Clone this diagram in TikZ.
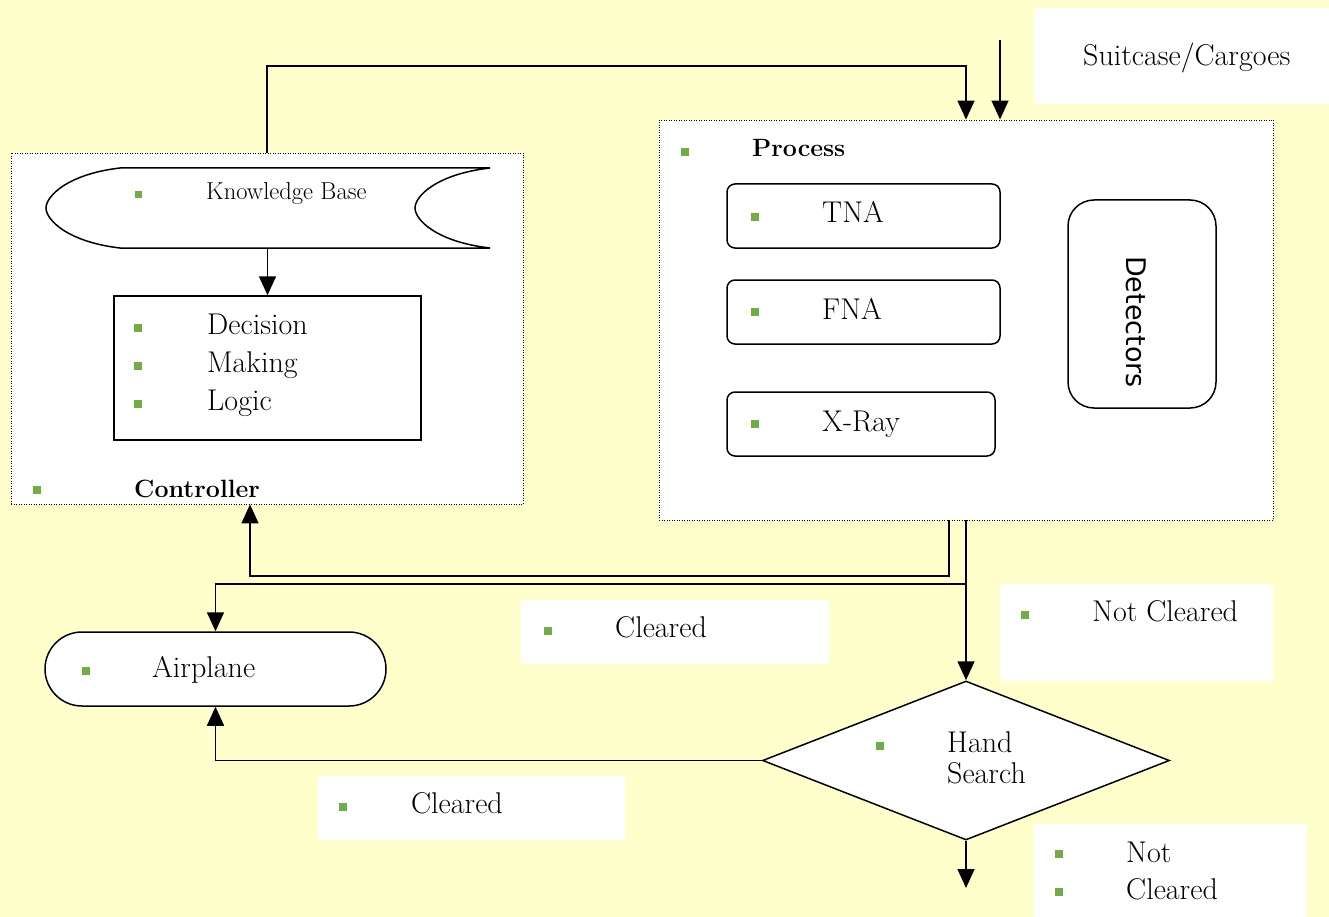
\documentclass[tikz,border=0pt]{standalone}
\usepackage{fontspec}
\newfontfamily\detfont{DejaVu Sans}
\usetikzlibrary{arrows.meta,shapes.geometric,calc}
\definecolor{bgyellow}{HTML}{FFFFCC}
\definecolor{bulgreen}{HTML}{70AD47}
\tikzset{
  conn/.style={line width=1.6pt},
  tip/.style={-{Triangle[length=19pt,width=17pt]}},
  dotbox/.style={draw, fill=white, line width=0.9pt, dash pattern=on 1pt off 1.5pt, inner sep=0},
  solidbox/.style={draw, fill=white, line width=1.5pt, inner sep=0},
  rbox/.style={draw, fill=white, line width=1.5pt, inner sep=0, rounded corners=8pt},
  labbox/.style={fill=white, inner sep=0},
  bul/.style={fill=bulgreen, minimum size=8pt, inner sep=0},
  txt/.style={font=\fontsize{30}{36}\selectfont, anchor=base west, inner sep=0},
  btxt/.style={font=\fontsize{25}{30}\selectfont\bfseries, anchor=base west, inner sep=0},
  stxt/.style={font=\fontsize{24.5}{28}\selectfont, anchor=base west, inner sep=0}
}
\begin{document}
\begin{tikzpicture}[x=1pt,y=-1pt]
\useasboundingbox (0,0) rectangle (1329,917);
\fill[bgyellow] (0,0) rectangle (1329,917);

% label boxes
\node[labbox, minimum width=295pt, minimum height=96pt] (suitbox) at (1181.5,56) {};
\node[labbox, minimum width=308pt, minimum height=64pt] (clr1box) at (675,632) {};
\node[labbox, minimum width=273pt, minimum height=97pt] (nc1box) at (1136.5,632.5) {};
\node[labbox, minimum width=307pt, minimum height=64pt] (clr2box) at (471.5,808) {};
\node[labbox, minimum width=273pt, minimum height=93pt] (nc2box) at (1170.5,870.5) {};

% containers
\node[dotbox, minimum width=512pt, minimum height=351pt] (ctrl) at (267,328.5) {};
\node[dotbox, minimum width=614pt, minimum height=400pt] (proc) at (966,320) {};

% knowledge base shape
\node[inner sep=0, minimum width=445pt, minimum height=80pt] (kb) at (267.5,208) {};
\filldraw[fill=white, line width=1.5pt]
  (490,168) -- (120,168) .. controls (68,174) and (46,196) .. (46,208)
  .. controls (46,220) and (68,242) .. (120,248) -- (490,248)
  .. controls (437,242) and (415,220) .. (415,208)
  .. controls (415,196) and (437,174) .. (490,168);

% decision box
\node[solidbox, minimum width=307pt, minimum height=144pt] (dec) at (267.5,368) {};

% process items
\node[rbox, minimum width=273pt, minimum height=64pt] (tna) at (863.5,216) {};
\node[rbox, minimum width=273pt, minimum height=64pt] (fna) at (863.5,312) {};
\node[rbox, minimum width=268pt, minimum height=64pt] (xray) at (861,424) {};
\node[draw, fill=white, line width=1.5pt, inner sep=0, rounded corners=26pt, minimum width=148pt, minimum height=208pt] (det) at (1142,304) {};
\node[font=\detfont\fontsize{27}{31}\selectfont, rotate=-90, inner sep=0] (dettxt) at (1136,322) {Detectors};

% airplane and hand search
\node[draw, fill=white, line width=1.5pt, inner sep=0, rounded corners=37pt, minimum width=341pt, minimum height=74pt] (air) at (215.5,669) {};
\node[diamond, draw, fill=white, line width=1.5pt, inner sep=0, minimum width=407pt, minimum height=159pt] (hs) at (966,760.5) {};

% coordinates
\coordinate (ktop) at (966,66);
\coordinate (sin) at (1000,40);
\coordinate (fb) at (250,576);
\coordinate (sp) at (966,584);
\coordinate (out) at (966,888);

% connectors
\draw[conn,tip] (kb.south) -- (dec.north);
\draw[conn,tip] (ctrl.north) |- (ktop) -- (proc.north);
\draw[conn,tip] (sin) -- (sin |- proc.north);
\draw[conn,tip] ([xshift=-17pt]proc.south) |- (fb) -- (fb |- ctrl.south);
\draw[conn,tip] (proc.south) -- (hs.north);
\draw[conn,tip] (sp) -| (air.north);
\draw[conn,tip] (hs.west) -| (air.south);
\draw[conn,tip] (hs.south) -- (out);

% texts and bullets
\node[txt] (suittxt) at (1083,66) {Suitcase/Cargoes};

\node[bul, minimum size=7pt] (b1) at (138,195) {};
\node[stxt] (kbtxt) at (206,200) {Knowledge Base};

\node[bul] (b2) at (138,328) {};
\node[txt] (dtxt1) at (207,334) {Decision};
\node[bul] (b3) at (138,366) {};
\node[txt] (dtxt2) at (207,372) {Making};
\node[bul] (b4) at (138,404) {};
\node[txt] (dtxt3) at (207,410) {Logic};

\node[bul] (b5) at (37,490) {};
\node[btxt] (ctrltxt) at (134,497) {Controller};

\node[bul] (b6) at (685,152) {};
\node[btxt] (proctxt) at (752,157) {Process};

\node[bul] (b7) at (755,217) {};
\node[txt] (tnatxt) at (822,223) {TNA};
\node[bul] (b8) at (755,312) {};
\node[txt] (fnatxt) at (822,319) {FNA};
\node[bul] (b9) at (755,424) {};
\node[txt] (xraytxt) at (822,431) {X-Ray};

\node[bul] (b10) at (86,671) {};
\node[txt] (airtxt) at (152,677) {Airplane};

\node[bul] (b11) at (548,631) {};
\node[txt] (clr1txt) at (615,637) {Cleared};

\node[bul] (b12) at (1025,615) {};
\node[txt] (nc1txt) at (1092,621) {Not Cleared};

\node[bul] (b13) at (880,746) {};
\node[txt] (hstxt1) at (947,752) {Hand};
\node[txt] (hstxt2) at (947,783) {Search};

\node[bul] (b14) at (343,807) {};
\node[txt] (clr2txt) at (411,813) {Cleared};

\node[bul] (b15) at (1059,854) {};
\node[txt] (nc2txt1) at (1126,862) {Not};
\node[bul] (b16) at (1059,892) {};
\node[txt] (nc2txt2) at (1126,899) {Cleared};
\end{tikzpicture}
\end{document}
